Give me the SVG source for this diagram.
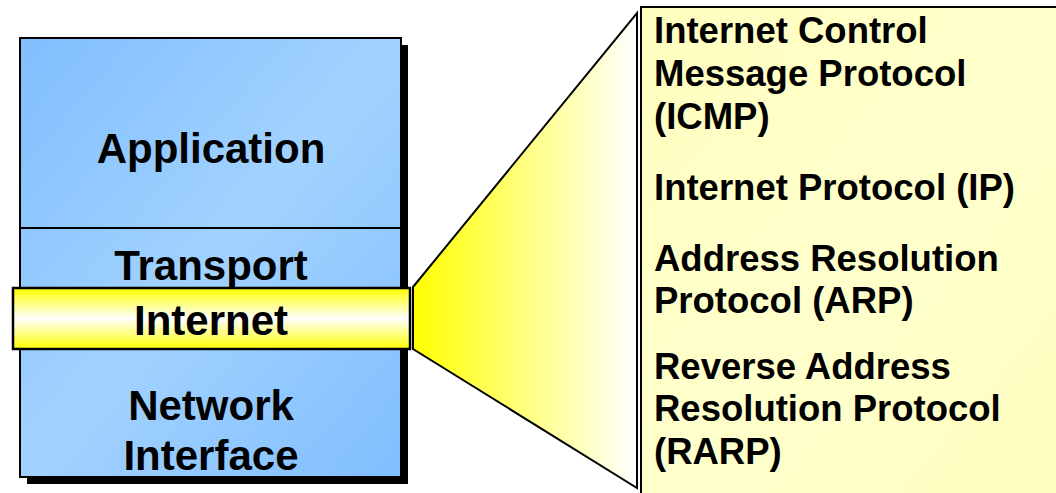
<svg xmlns="http://www.w3.org/2000/svg" width="1056" height="493" viewBox="0 0 1056 493">
  <defs>
    <linearGradient id="blue" x1="0" y1="0" x2="1" y2="1">
      <stop offset="0" stop-color="#80BEFF"/>
      <stop offset="0.5" stop-color="#A2D2FF"/>
      <stop offset="1" stop-color="#80BEFF"/>
    </linearGradient>
    <linearGradient id="band" x1="0" y1="0" x2="0" y2="1">
      <stop offset="0" stop-color="#FFFF00"/>
      <stop offset="0.5" stop-color="#FFFFFF"/>
      <stop offset="1" stop-color="#FFFF00"/>
    </linearGradient>
    <linearGradient id="cone" gradientUnits="userSpaceOnUse" x1="413" y1="0" x2="637" y2="0">
      <stop offset="0" stop-color="#FFFF00"/>
      <stop offset="1" stop-color="#FFFFFF"/>
    </linearGradient>
    <linearGradient id="panel" x1="0" y1="0" x2="1" y2="1">
      <stop offset="0" stop-color="#FFFFC0"/>
      <stop offset="0.5" stop-color="#FFFFCC"/>
      <stop offset="1" stop-color="#FFFFC0"/>
    </linearGradient>
  </defs>
  <style>
    .lbl { font-family: "Liberation Sans", Arial, sans-serif; font-weight: bold; fill: #000; }
    .big { font-size: 42px; text-anchor: middle; }
    .sm { font-size: 36.5px; }
  </style>
  <rect width="1056" height="493" fill="#FFFFFF"/>

  <g id="stack">
    <rect x="27" y="45" width="381" height="439" fill="#000"/>
    <rect x="20" y="38" width="381" height="439" fill="url(#blue)" stroke="#000" stroke-width="2"/>
    <line x1="20" y1="228" x2="401" y2="228" stroke="#000" stroke-width="2"/>
  </g>

  <g id="application">
    <text class="lbl big" x="211" y="163">Application</text>
  </g>
  <g id="transport">
    <text class="lbl big" x="211" y="280">Transport</text>
  </g>
  <g id="network-interface">
    <text class="lbl big" x="211" y="420">Network</text>
    <text class="lbl big" x="211" y="470">Interface</text>
  </g>

  <g id="connectors">
    <polygon points="413,287 637,13 637,488 413,349" fill="url(#cone)" stroke="#000" stroke-width="2" stroke-linejoin="miter"/>
  </g>

  <g id="internet">
    <rect x="13" y="288" width="397" height="61" fill="url(#band)" stroke="#000" stroke-width="2.5"/>
    <text class="lbl big" x="211" y="335">Internet</text>
  </g>

  <g id="protocols">
    <rect x="641" y="7" width="430" height="500" fill="url(#panel)" stroke="#000" stroke-width="2"/>
    <text class="lbl sm" x="654" y="43">Internet Control</text>
    <text class="lbl sm" x="654" y="86">Message Protocol</text>
    <text class="lbl sm" x="654" y="129">(ICMP)</text>
    <text class="lbl sm" x="654" y="200">Internet Protocol (IP)</text>
    <text class="lbl sm" x="654" y="271">Address Resolution</text>
    <text class="lbl sm" x="654" y="313">Protocol (ARP)</text>
    <text class="lbl sm" x="654" y="379">Reverse Address</text>
    <text class="lbl sm" x="654" y="421">Resolution Protocol</text>
    <text class="lbl sm" x="654" y="464">(RARP)</text>
  </g>
</svg>
